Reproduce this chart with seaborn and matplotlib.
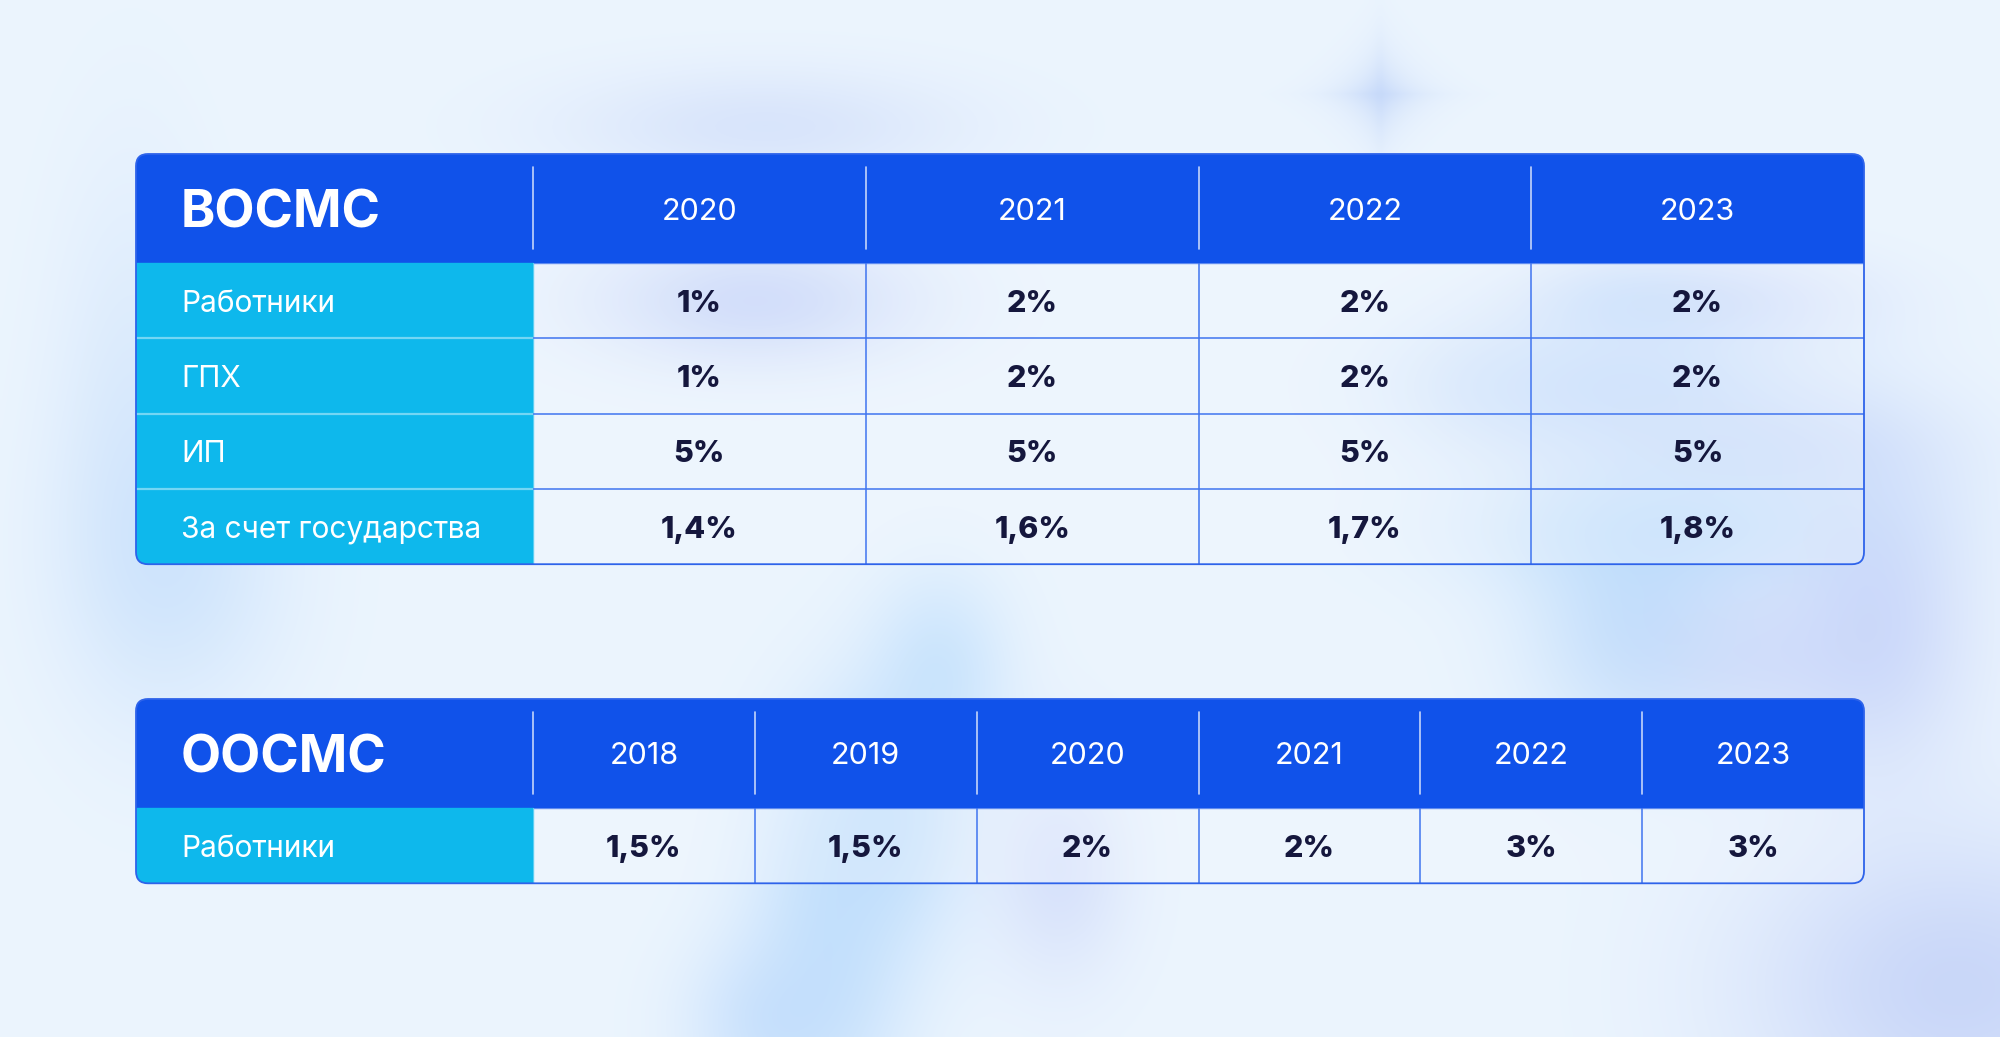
import numpy as np
import pandas as pd
import matplotlib
matplotlib.use('Agg')
import matplotlib.pyplot as plt
from matplotlib.colors import ListedColormap, to_rgb
from matplotlib.patches import FancyBboxPatch, Rectangle
import seaborn as sns

# --- data ---
vosms_title = 'ВОСМС'
vosms_years = ['2020', '2021', '2022', '2023']
vosms_rows = ['Работники', 'ГПХ', 'ИП', 'За счет государства']
vosms_workers = [1, 2, 2, 2]
vosms_gph = [1, 2, 2, 2]
vosms_ip = [5, 5, 5, 5]
vosms_state = [1.4, 1.6, 1.7, 1.8]

oosms_title = 'ООСМС'
oosms_years = ['2018', '2019', '2020', '2021', '2022', '2023']
oosms_rows = ['Работники']
oosms_workers = [1.5, 1.5, 2, 2, 3, 3]

df_vosms = pd.DataFrame([vosms_workers, vosms_gph, vosms_ip, vosms_state],
                        index=vosms_rows, columns=vosms_years)
df_oosms = pd.DataFrame([oosms_workers], index=oosms_rows, columns=oosms_years)

# --- style ---
sns.set_theme(style='white')
plt.rcParams['font.family'] = ['Inter', 'DejaVu Sans']

W, H = 2000, 1037
LEFT, RIGHT = 136, 1864
LABEL_W = 397
HEADER_H = 109
ROW_H = 75.3
RADIUS = 12

BLUE = '#1052EA'
CYAN = '#0EB8EC'
DARK = '#15173D'
GRID = '#3F74EF'
EDGE = '#2E63EA'

fig = plt.figure(figsize=(W / 100, H / 100), dpi=100)
bg = fig.add_axes([0, 0, 1, 1])
bg.set_xlim(0, W)
bg.set_ylim(H, 0)
bg.set_axis_off()

# soft blurred background
gx, gy = np.meshgrid(np.linspace(0, W, 500), np.linspace(0, H, 260))
img = np.ones(gx.shape + (3,)) * np.array(to_rgb('#ECF5FE'))


def blob(img, cx, cy, sx, sy, s, col, ang=0.0):
    a = np.deg2rad(ang)
    dx = (gx - cx) * np.cos(a) + (gy - cy) * np.sin(a)
    dy = -(gx - cx) * np.sin(a) + (gy - cy) * np.cos(a)
    w = s * np.exp(-0.5 * (dx ** 2 / sx ** 2 + dy ** 2 / sy ** 2))
    return img * (1 - w[..., None]) + np.array(to_rgb(col)) * w[..., None]


blobs = [
    # top / left
    (765, 125, 140, 40, 0.40, '#bccdf7', 0),
    (130, 400, 55, 170, 0.35, '#c2dbfa', 0),
    (175, 560, 80, 110, 0.50, '#b9d8fb', 0),
    # inside first table
    (755, 300, 110, 45, 0.75, '#b5c6f6', 0),
    (1700, 300, 110, 35, 0.60, '#bfcdf8', 0),
    (1630, 305, 60, 30, 0.50, '#b5d8fb', 0),
    (1620, 385, 130, 50, 0.75, '#b6d4fb', 0),
    (1500, 385, 60, 40, 0.40, '#c5dcfa', 0),
    (1750, 450, 130, 45, 0.60, '#bdd0f8', 0),
    (1680, 530, 140, 45, 0.70, '#b5d9fb', 0),
    # right, below first table
    (1640, 620, 80, 90, 0.65, '#b3d7fb', 0),
    (1760, 660, 90, 60, 0.50, '#c6d2f8', 0),
    (1880, 620, 70, 110, 0.60, '#bccbf8', 0),
    # bottom centre streak
    (940, 670, 50, 70, 0.55, '#b5dafc', 0),
    (885, 820, 60, 90, 0.70, '#b4d8fc', 0),
    (830, 940, 60, 120, 0.60, '#b3d8fc', 0),
    (1060, 870, 50, 80, 0.50, '#c4d0f8', 0),
    (770, 1025, 60, 60, 0.55, '#b6d6fc', 0),
    # bottom right
    (1960, 990, 150, 110, 0.65, '#b7c7f6', 0),
]
for b in blobs:
    img = blob(img, *b)

# four-pointed blurred star
sdx, sdy = np.abs(gx - 1381) / 26, np.abs(gy - 93) / 26
star = 0.55 * np.exp(-(sdx ** 0.8 + sdy ** 0.8) ** 1.6 / 2)
img = img * (1 - star[..., None]) + np.array(to_rgb('#a7c2f6')) * star[..., None]

bg.imshow(img, extent=(0, W, H, 0), aspect='auto', interpolation='bilinear', zorder=0)

ov = fig.add_axes([0, 0, 1, 1], zorder=5)
ov.set_xlim(0, W)
ov.set_ylim(H, 0)
ov.set_axis_off()
ov.patch.set_alpha(0)


def fmt(v):
    return f'{v:g}'.replace('.', ',') + '%'


def draw_table(df, title, top):
    nrows, ncols = df.shape
    col_w = (RIGHT - LEFT - LABEL_W) / ncols
    height = HEADER_H + nrows * ROW_H
    x0 = LEFT + LABEL_W
    y0 = top + HEADER_H

    clip = FancyBboxPatch((LEFT, top), RIGHT - LEFT, height,
                          boxstyle=f'round,pad=0,rounding_size={RADIUS}',
                          transform=bg.transData)

    header = Rectangle((LEFT, top), RIGHT - LEFT, HEADER_H, color=BLUE, zorder=2)
    bg.add_patch(header)
    header.set_clip_path(clip)
    labels = Rectangle((LEFT, y0), LABEL_W, nrows * ROW_H, color=CYAN, zorder=2)
    bg.add_patch(labels)
    labels.set_clip_path(clip)

    bg.text(LEFT + 45, top + HEADER_H / 2, title, color='white', fontsize=37.5,
            fontweight='bold', ha='left', va='center_baseline', zorder=4)
    for i, year in enumerate(df.columns):
        cx = x0 + (i + 0.5) * col_w
        bg.text(cx, top + HEADER_H / 2, year, color='white', fontsize=22,
                ha='center', va='center_baseline', zorder=4)
        bx = x0 + i * col_w
        bg.plot([bx, bx], [top + 13, top + HEADER_H - 14], color='white',
                alpha=0.75, lw=1.2, zorder=3)
    for j, name in enumerate(df.index):
        cy = y0 + (j + 0.5) * ROW_H
        bg.text(LEFT + 45, cy, name, color='white', fontsize=21.5,
                ha='left', va='center_baseline', zorder=4)
        if j > 0:
            bg.plot([LEFT, x0], [y0 + j * ROW_H] * 2, color='#74d6f4', lw=1.6, zorder=3)

    hax = fig.add_axes([x0 / W, 1 - (y0 + nrows * ROW_H) / H,
                        (RIGHT - x0) / W, nrows * ROW_H / H], zorder=2)
    hax.patch.set_alpha(0)
    sns.heatmap(df, ax=hax, cmap=ListedColormap(['#F3F8FE']), cbar=False,
                annot=df.map(fmt), fmt='', alpha=0.35, linewidths=0,
                annot_kws={'fontsize': 22, 'fontweight': 800, 'color': DARK,
                           'va': 'center_baseline'})
    hax.collections[0].set_clip_path(clip)
    for i in range(1, ncols):
        hax.axvline(i, color=GRID, lw=1.1)
    for j in range(1, nrows):
        hax.axhline(j, color=GRID, lw=1.1)
    hax.set_axis_off()

    ov.add_patch(FancyBboxPatch((LEFT, top), RIGHT - LEFT, height,
                                boxstyle=f'round,pad=0,rounding_size={RADIUS}',
                                fill=False, edgecolor=EDGE, lw=1.3))


draw_table(df_vosms, vosms_title, 154)
draw_table(df_oosms, oosms_title, 699)

fig.savefig('out.png', dpi=100)
